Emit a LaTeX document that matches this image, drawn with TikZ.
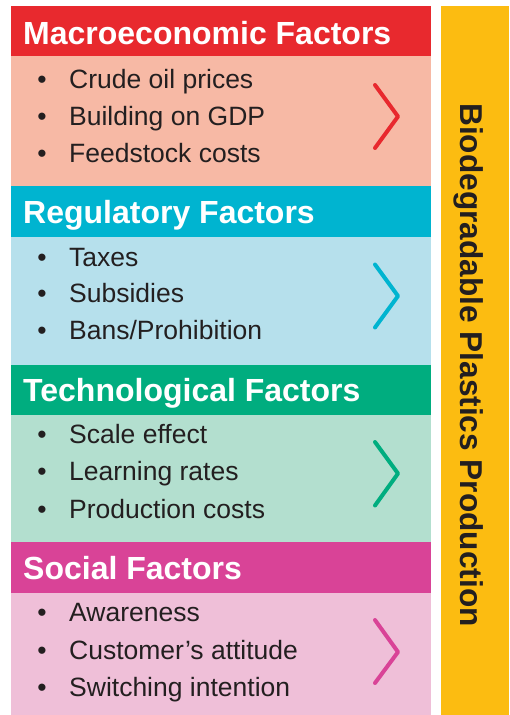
\documentclass[tikz,border=0pt]{standalone}
\usepackage{fontspec}
\setmainfont{Liberation Sans}
\begin{document}
\begin{tikzpicture}[x=1pt,y=-1pt,
  band/.style={anchor=north west, minimum width=420pt, inner sep=0pt, outer sep=0pt},
  headtext/.style={anchor=base west, inner sep=0pt, text=white, font=\fontsize{32}{38}\selectfont\bfseries},
  itemtext/.style={anchor=base west, inner sep=0pt, text=ink, font=\fontsize{26.5}{32}\selectfont},
  dot/.style={anchor=base, inner sep=0pt, text=ink, font=\fontsize{26.5}{32}\selectfont},
  chevron/.style={line width=4pt, line cap=round, line join=round}]
\definecolor{ink}{HTML}{231F20}
\definecolor{macroH}{HTML}{E8292E}
\definecolor{macroB}{HTML}{F7B9A5}
\definecolor{regH}{HTML}{00B4D0}
\definecolor{regB}{HTML}{B6E0EC}
\definecolor{techH}{HTML}{00AD7F}
\definecolor{techB}{HTML}{B3DFCF}
\definecolor{socH}{HTML}{D94397}
\definecolor{socB}{HTML}{EFBFD8}
\definecolor{prodY}{HTML}{FCBC11}
\useasboundingbox (0,0) rectangle (509,715);

% production bar
\node[anchor=north west, fill=prodY, minimum width=68pt, minimum height=709pt, inner sep=0pt] (prod) at (441,6) {};
\node[rotate=-90, anchor=base, inner sep=0pt, text=ink, font=\fontsize{31.6}{38}\selectfont\bfseries] (prodtext) at (460,365) {Biodegradable Plastics Production};

% macroeconomic
\node[band, fill=macroH, minimum height=50pt] (h1) at (11,6) {};
\node[band, fill=macroB, minimum height=130pt] (b1) at (11,56) {};
\node[headtext] (t1) at (23,44) {Macroeconomic Factors};
\foreach \y/\txt [count=\i] in {88/Crude oil prices, 125/Building on GDP, 162/Feedstock costs}{
  \node[dot] (d1\i) at (42,\y) {•};
  \node[itemtext] (i1\i) at (69,\y) {\txt};
}
\draw[chevron, macroH] (375,85) -- (398,116.5) -- (375,148);

% regulatory
\node[band, fill=regH, minimum height=51pt] (h2) at (11,186) {};
\node[band, fill=regB, minimum height=128pt] (b2) at (11,237) {};
\node[headtext] (t2) at (23,223.3) {Regulatory Factors};
\foreach \y/\txt [count=\i] in {266/Taxes, 302.7/Subsidies, 339.3/{Bans/Prohibition}}{
  \node[dot] (d2\i) at (42,\y) {•};
  \node[itemtext] (i2\i) at (69,\y) {\txt};
}
\draw[chevron, regH] (375,264.5) -- (398,296) -- (375,327.5);

% technological
\node[band, fill=techH, minimum height=50pt] (h3) at (11,365) {};
\node[band, fill=techB, minimum height=127pt] (b3) at (11,415) {};
\node[headtext] (t3) at (23,401.7) {Technological Factors};
\foreach \y/\txt [count=\i] in {443.3/Scale effect, 480.7/Learning rates, 518.3/Production costs}{
  \node[dot] (d3\i) at (42,\y) {•};
  \node[itemtext] (i3\i) at (69,\y) {\txt};
}
\draw[chevron, techH] (375,442) -- (398,473.5) -- (375,505.5);

% social
\node[band, fill=socH, minimum height=51pt] (h4) at (11,542) {};
\node[band, fill=socB, minimum height=122pt] (b4) at (11,593) {};
\node[headtext] (t4) at (23,579) {Social Factors};
\foreach \y/\txt [count=\i] in {621.7/Awareness, 659.3/Customer’s attitude, 696.7/Switching intention}{
  \node[dot] (d4\i) at (42,\y) {•};
  \node[itemtext] (i4\i) at (69,\y) {\txt};
}
\draw[chevron, socH] (375,620) -- (398,652) -- (375,683);
\end{tikzpicture}
\end{document}
